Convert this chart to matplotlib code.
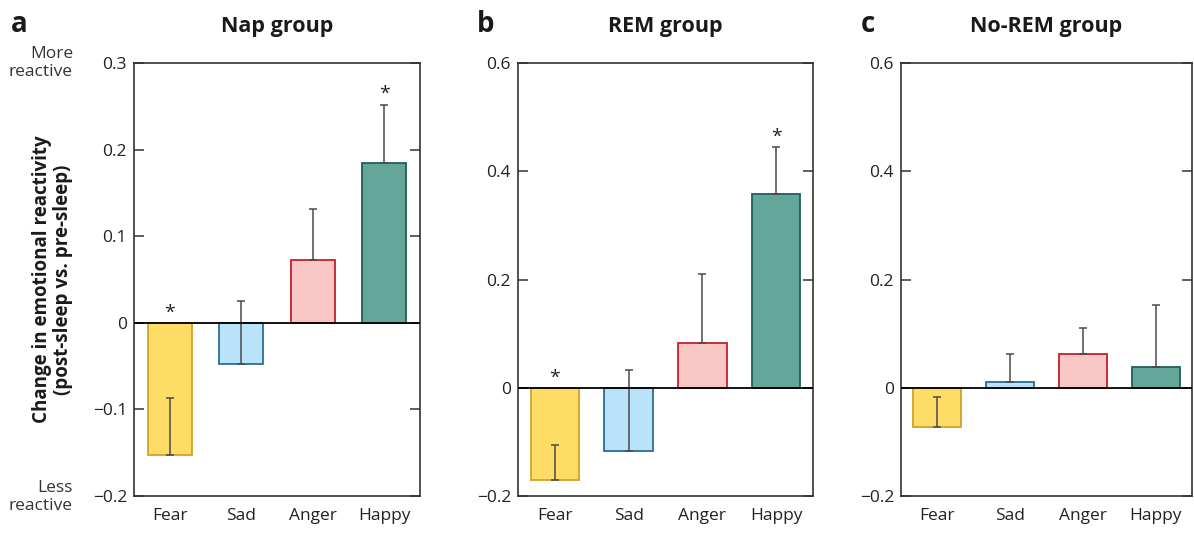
import matplotlib
matplotlib.use('Agg')
from matplotlib import pyplot as plt
import numpy as np

plt.rcParams['font.family'] = ['Open Sans', 'DejaVu Sans']

emotions = ['Fear', 'Sad', 'Anger', 'Happy']
face_colors = ['#FEDD67', '#B8E3F8', '#F8C7C3', '#64A69A']
edge_colors = ['#D4A12A', '#2B6D92', '#C3202E', '#215F5B']

panel_letters = ['a', 'b', 'c']
titles = ['Nap group', 'REM group', 'No-REM group']

nap_means = [-0.153, -0.048, 0.072, 0.184]
nap_err = [0.066, 0.073, 0.059, 0.068]
nap_stars = [True, False, False, True]

rem_means = [-0.171, -0.116, 0.083, 0.358]
rem_err = [0.066, 0.148, 0.127, 0.086]
rem_stars = [True, False, False, True]

norem_means = [-0.072, 0.010, 0.062, 0.039]
norem_err = [0.054, 0.052, 0.048, 0.114]
norem_stars = [False, False, False, False]

ylims = [(-0.2, 0.3), (-0.2, 0.6), (-0.2, 0.6)]
yticks = [[-0.2, -0.1, 0, 0.1, 0.2, 0.3], [-0.2, 0, 0.2, 0.4, 0.6], [-0.2, 0, 0.2, 0.4, 0.6]]
ytick_labels = [['\u22120.2', '\u22120.1', '0', '0.1', '0.2', '0.3'],
                ['\u22120.2', '0', '0.2', '0.4', '0.6'],
                ['\u22120.2', '0', '0.2', '0.4', '0.6']]

means = [nap_means, rem_means, norem_means]
errs = [nap_err, rem_err, norem_err]
stars = [nap_stars, rem_stars, norem_stars]

W, H = 1194, 533
fig = plt.figure(figsize=(W / 100, H / 100), dpi=100)

# axes boxes in pixels: left, right
boxes = [(134, 420), (518, 813), (901, 1192)]
top, bottom = 63, 496
bar_widths = [0.62, 0.66, 0.66]
letter_x = [11, 477, 861]

for k in range(3):
    l, r = boxes[k]
    ax = fig.add_axes([l / W, 1 - bottom / H, (r - l) / W, (bottom - top) / H])
    x = np.arange(len(emotions))
    ax.bar(x, means[k], width=bar_widths[k], color=face_colors,
           edgecolor=edge_colors, linewidth=1.3, zorder=2)
    ax.errorbar(x, means[k], yerr=[np.zeros(4), errs[k]], fmt='none',
                ecolor='#4a4a4a', elinewidth=1.1, capsize=3, capthick=1.1, zorder=3)
    ax.axhline(0, color='black', linewidth=1.3, zorder=4)
    for i in range(4):
        if stars[k][i]:
            ytop = means[k][i] + errs[k][i] if means[k][i] > 0 else 0
            ax.annotate('*', (x[i], ytop), xytext=(0, 1), textcoords='offset points',
                        ha='center', va='bottom', fontsize=14, color='#222222')
    ax.set_xlim(-0.5, 3.5)
    ax.set_ylim(ylims[k])
    ax.set_yticks(yticks[k])
    ax.set_yticklabels(ytick_labels[k], fontsize=12.5, color='#222222')
    ax.set_xticks(x)
    ax.set_xticklabels(emotions, fontsize=12.5, color='#222222')
    ax.tick_params(axis='x', length=0, pad=9)
    ax.tick_params(axis='y', direction='in', length=7, width=1.1, right=True,
                   pad=5, color='#333333')
    for s in ax.spines.values():
        s.set_linewidth(1.2)
        s.set_color('#333333')
    ax.set_title(titles[k], fontsize=15.5, fontweight='bold', pad=22, color='#1a1a1a')
    fig.text(letter_x[k] / W, 1 - 25 / H, panel_letters[k], fontsize=20,
             fontweight='bold', color='#1a1a1a', va='center', ha='left')
    if k == 0:
        ax.set_ylabel('Change in emotional reactivity\n(post-sleep vs. pre-sleep)',
                      fontsize=13.5, fontweight='bold', labelpad=14, color='#1a1a1a',
                      linespacing=1.05)

fig.text(73 / W, 1 - 63 / H, 'More\nreactive', fontsize=12.5, ha='right', va='center',
         color='#333333', linespacing=1.15)
fig.text(73 / W, 1 - 497 / H, 'Less\nreactive', fontsize=12.5, ha='right', va='center',
         color='#333333', linespacing=1.15)

fig.savefig('out.png', dpi=100)
